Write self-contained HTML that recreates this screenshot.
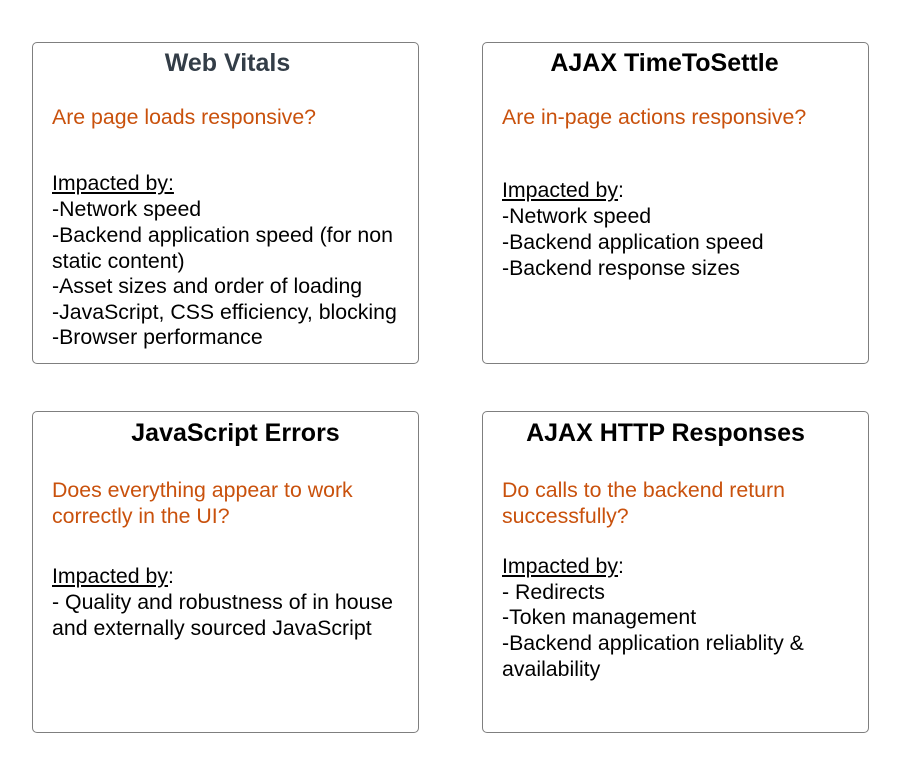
<!DOCTYPE html>
<html><head><style>
body{margin:0;width:900px;height:765px;background:#fff;position:relative;font-family:"Liberation Sans",sans-serif;}
.box{position:absolute;border:1px solid #7f7f7f;border-radius:5px;box-sizing:border-box;width:387px;height:322px;}
.t{position:absolute;font-weight:bold;font-size:25px;line-height:26px;text-align:center;width:387px;}
.l{position:absolute;font-size:21.3px;line-height:26px;white-space:nowrap;color:#000;}
.o{color:#c9510c;}
u{text-decoration:underline;}
</style></head><body>
<div class="box" style="left:32px;top:42px"></div>
<div class="box" style="left:482px;top:42px"></div>
<div class="box" style="left:32px;top:411px"></div>
<div class="box" style="left:482px;top:411px"></div>

<div class="t" style="left:34px;top:50px;color:#333d47">Web Vitals</div>
<div class="l o" style="left:52px;top:104px">Are page loads responsive?</div>
<div class="l" style="left:52px;top:170px"><u>Impacted by:</u></div>
<div class="l" style="left:52px;top:196px">-Network speed</div>
<div class="l" style="left:52px;top:222px">-Backend application speed (for non</div>
<div class="l" style="left:52px;top:248px">static content)</div>
<div class="l" style="left:52px;top:273px">-Asset sizes and order of loading</div>
<div class="l" style="left:52px;top:299px">-JavaScript, CSS efficiency, blocking</div>
<div class="l" style="left:52px;top:324px">-Browser performance</div>

<div class="t" style="left:471px;top:50px">AJAX TimeToSettle</div>
<div class="l o" style="left:502px;top:104px">Are in-page actions responsive?</div>
<div class="l" style="left:502px;top:177px"><u>Impacted by</u>:</div>
<div class="l" style="left:502px;top:203px">-Network speed</div>
<div class="l" style="left:502px;top:229px">-Backend application speed</div>
<div class="l" style="left:502px;top:255px">-Backend response sizes</div>

<div class="t" style="left:42px;top:420px">JavaScript Errors</div>
<div class="l o" style="left:52px;top:477px">Does everything appear to work</div>
<div class="l o" style="left:52px;top:503px">correctly in the UI?</div>
<div class="l" style="left:52px;top:563px"><u>Impacted by</u>:</div>
<div class="l" style="left:52px;top:589px">- Quality and robustness of in house</div>
<div class="l" style="left:52px;top:615px">and externally sourced JavaScript</div>

<div class="t" style="left:472px;top:420px">AJAX HTTP Responses</div>
<div class="l o" style="left:502px;top:477px">Do calls to the backend return</div>
<div class="l o" style="left:502px;top:503px">successfully?</div>
<div class="l" style="left:502px;top:553px"><u>Impacted by</u>:</div>
<div class="l" style="left:502px;top:579px">- Redirects</div>
<div class="l" style="left:502px;top:604px">-Token management</div>
<div class="l" style="left:502px;top:630px">-Backend application reliablity &amp;</div>
<div class="l" style="left:502px;top:656px">availability</div>
</body></html>
